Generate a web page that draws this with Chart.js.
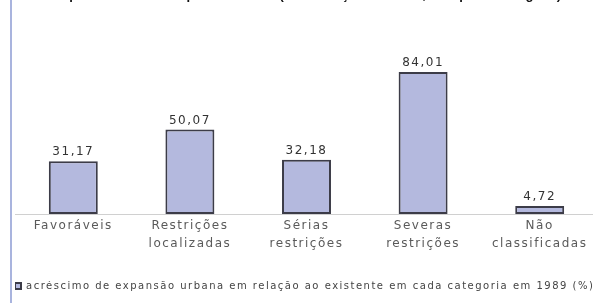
<!DOCTYPE html>
<html>
<head>
<meta charset="utf-8">
<script src="https://cdn.jsdelivr.net/npm/chart.js@4"></script>
<style>
  html, body { margin: 0; padding: 0; background: #fff; overflow: hidden; }
  body { width: 593px; height: 303px; position: relative; }
  #frame { position: absolute; left: 10px; top: 0; width: 2px; height: 303px; background: #a9b4de; z-index: 2; }
  #wrap { position: absolute; left: 10px; top: -16px; width: 588px; height: 319px; }
</style>
</head>
<body>
<div id="frame"></div>
<div id="wrap"><canvas id="chart"></canvas></div>
<script>
// categories (x axis)
const categories = [
  ["Favoráveis"],
  ["Restrições", "localizadas"],
  ["Sérias", "restrições"],
  ["Severas", "restrições"],
  ["Não", "classificadas"]
];
// acréscimo de expansão urbana (%)
const acrescimo = [31.17, 50.07, 32.18, 84.01, 4.72];
const seriesLabel = "acréscimo de expansão urbana em relação ao existente em cada categoria em 1989 (%)";
const titleText = "Expansão urbana por classes (em relação a 1989, em percentagem)";

// the source text is spaced out; keep that on every redraw
const spacing = {
  id: "spacing",
  beforeUpdate(chart) { chart.ctx.letterSpacing = "1.5px"; },
  beforeLayout(chart) { chart.ctx.letterSpacing = "1.5px"; },
  beforeDraw(chart) { chart.ctx.letterSpacing = "1.5px"; }
};

// write the value over each bar
const valueLabels = {
  id: "valueLabels",
  afterDatasetsDraw(chart) {
    const ctx = chart.ctx;
    const meta = chart.getDatasetMeta(0);
    ctx.save();
    ctx.font = "12px 'DejaVu Sans'";
    ctx.fillStyle = "#333";
    ctx.textAlign = "center";
    ctx.textBaseline = "bottom";
    meta.data.forEach((bar, i) => {
      const txt = acrescimo[i].toFixed(2).replace(".", ",");
      ctx.fillText(txt, bar.x, bar.y - 3);
    });
    ctx.restore();
  }
};

const ctx = document.getElementById("chart").getContext("2d");
new Chart(ctx, {
  type: "bar",
  data: {
    labels: categories,
    datasets: [{
      label: seriesLabel,
      data: acrescimo,
      backgroundColor: "#b4b9de",
      borderColor: "#3c3c48",
      borderWidth: 2,
      borderSkipped: false,
      categoryPercentage: 1,
      barPercentage: 0.42
    }]
  },
  options: {
    responsive: true,
    maintainAspectRatio: false,
    animation: false,
    layout: { padding: { left: 5, right: 0, top: 0, bottom: 2 } },
    plugins: {
      title: {
        display: true,
        text: titleText,
        color: "#111",
        font: { family: "'Liberation Sans', Arial", size: 13, weight: "bold" },
        padding: { top: 4, bottom: 29 }
      },
      legend: {
        position: "bottom",
        align: "start",
        labels: {
          boxWidth: 6,
          boxHeight: 6,
          padding: 0,
          color: "#444",
          font: { family: "'DejaVu Sans'", size: 10 }
        }
      },
      tooltip: { enabled: false }
    },
    scales: {
      x: {
        grid: { display: false, drawTicks: false },
        border: { color: "#d0d0d0", width: 1 },
        ticks: {
          color: "#5a5a5a",
          padding: 3,
          maxRotation: 0,
          autoSkip: false,
          font: { family: "'DejaVu Sans'", size: 12, lineHeight: 1.5 }
        },
        afterFit(scale) { scale.height += 25; }
      },
      y: {
        display: false,
        min: 0,
        max: 107.4
      }
    }
  },
  plugins: [spacing, valueLabels]
});
</script>
</body>
</html>
